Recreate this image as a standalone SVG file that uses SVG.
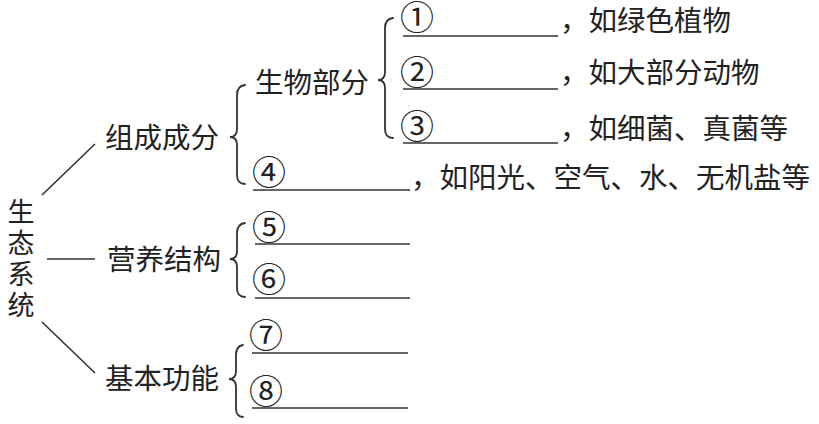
<svg xmlns="http://www.w3.org/2000/svg" width="819" height="424" viewBox="0 0 819 424">
<style>
text{font-family:"Noto Sans CJK SC","Noto Sans CJK JP",sans-serif;font-size:28.5px;fill:#222}
.v{font-size:27px;writing-mode:vertical-rl;letter-spacing:4px}
.num{font-family:"Noto Sans CJK SC","DejaVu Sans",sans-serif;font-size:34px}
.ln{stroke:#333;stroke-width:1.6;fill:none}
.br{stroke:#333;stroke-width:1.8;fill:none;stroke-linecap:round}
</style>
<rect width="819" height="424" fill="#fff"/>
<g id="root">
<text class="v" x="21" y="198">生态系统</text>
</g>
<g id="connectors">
<line class="ln" x1="42" y1="195" x2="95" y2="144"/>
<line class="ln" x1="47" y1="259" x2="95" y2="259"/>
<line class="ln" x1="42" y1="322" x2="95" y2="373"/>
<path class="br" d="M245,85 Q237,86 237,95 L237,129 Q237,137 230,137 Q237,137 237,145 L237,175 Q237,184 245,184"/>
<path class="br" d="M393,18 Q385,19 385,28 L385,72 Q385,80 378,80 Q385,80 385,88 L385,129 Q385,138 393,138"/>
<path class="br" d="M245,223 Q237,224 237,233 L237,251 Q237,259 230,259 Q237,259 237,267 L237,288 Q237,297 245,297"/>
<path class="br" d="M243,345 Q236,346 236,355 L236,371 Q236,379 229,379 Q236,379 236,387 L236,408 Q236,417 243,417"/>
</g>
<g id="composition">
<text x="105" y="148">组成成分</text>
</g>
<g id="biotic">
<text x="255" y="93">生物部分</text>
</g>
<g id="item1">
<text class="num" x="400" y="30">①</text>
<line class="ln" x1="403" y1="36" x2="558" y2="36"/>
<text x="560" y="31">，如绿色植物</text>
</g>
<g id="item2">
<text class="num" x="400" y="85">②</text>
<line class="ln" x1="403" y1="89" x2="558" y2="89"/>
<text x="560" y="83">，如大部分动物</text>
</g>
<g id="item3">
<text class="num" x="400" y="139">③</text>
<line class="ln" x1="403" y1="143" x2="558" y2="143"/>
<text x="560" y="139">，如细菌、真菌等</text>
</g>
<g id="item4">
<text class="num" x="252" y="185">④</text>
<line class="ln" x1="253" y1="190" x2="410" y2="190"/>
<text x="411" y="188">，如阳光、空气、水、无机盐等</text>
</g>
<g id="structure">
<text x="107" y="270">营养结构</text>
</g>
<g id="item5">
<text class="num" x="252" y="240">⑤</text>
<line class="ln" x1="255" y1="244" x2="410" y2="244"/>
</g>
<g id="item6">
<text class="num" x="252" y="292">⑥</text>
<line class="ln" x1="255" y1="298" x2="410" y2="298"/>
</g>
<g id="function">
<text x="105" y="389">基本功能</text>
</g>
<g id="item7">
<text class="num" x="249" y="348">⑦</text>
<line class="ln" x1="252" y1="353" x2="408" y2="353"/>
</g>
<g id="item8">
<text class="num" x="249" y="404">⑧</text>
<line class="ln" x1="252" y1="408" x2="408" y2="408"/>
</g>
</svg>
